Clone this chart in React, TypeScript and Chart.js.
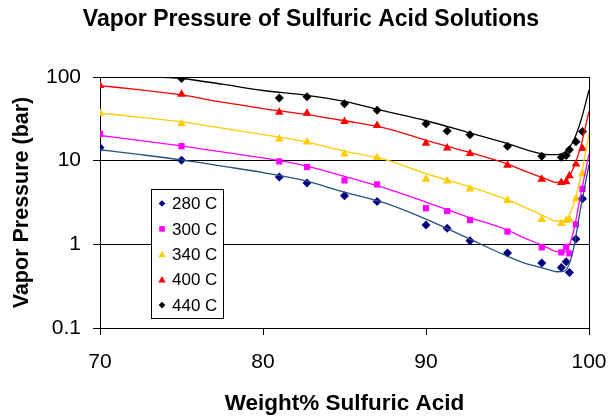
import React, { useEffect, useRef } from "react";
import { Chart, registerables } from "chart.js";

Chart.register(...registerables);

// Measured points (Weight% H2SO4)
const xMeasured = [70, 75, 81, 82.7, 85, 87, 90, 91.3, 92.7, 95, 97.1, 98.3, 98.6, 98.8, 99.2, 99.6];
const p280 = [14.4, 10.1, 6.4, 5.4, 3.8, 3.26, 1.7, 1.56, 1.1, 0.79, 0.6, 0.53, 0.62, 0.46, 1.16, 3.5];
const p300 = [20.9, 14.9, 9.8, 8.4, 5.8, 5.2, 2.7, 2.5, 1.95, 1.42, 0.92, 0.8, 0.93, 0.78, 1.73, 4.6];
const p340 = [37, 27.7, 18.2, 16.7, 12.0, 10.9, 6.0, 5.7, 4.6, 3.35, 1.98, 1.77, 1.93, 1.98, 3.5, 7.0];
const p400 = [79, 62, 38, 37, 29.4, 26.4, 16.2, 14.2, 12.2, 8.8, 6.0, 5.5, 5.6, 6.6, 9.1, 14.0];
const xMeasured440 = [75, 81, 82.7, 85, 87, 90, 91.3, 92.7, 95, 97.1, 98.3, 98.6, 98.8, 99.2, 99.6];
const p440 = [96, 56, 58, 48, 40, 27.6, 22.6, 20.4, 14.9, 11.3, 11.0, 11.5, 13.5, 16.8, 22.3];

// Fitted curves
const xCurve = [70, 72.5, 75, 77.5, 80, 82.5, 85, 87.5, 90, 92.5, 95, 96, 97, 97.5, 98, 98.5, 99, 99.5, 100];
const c280 = [13.5, 11.8, 10.2, 8.6, 7.2, 5.8, 4.2, 3.1, 2.0, 1.2, 0.72, 0.6, 0.53, 0.5, 0.47, 0.48, 0.8, 2.8, 9];
const c300 = [20, 17.4, 15, 12.7, 10.8, 8.8, 6.5, 4.7, 3.2, 2.15, 1.48, 1.2, 1.0, 0.9, 0.82, 0.81, 1.3, 4.0, 12];
const c340 = [37, 33, 29, 24.5, 20.5, 17, 13, 10.3, 7.0, 5.0, 3.4, 2.8, 2.3, 2.05, 1.9, 1.92, 2.8, 6.5, 21];
const c400 = [79, 70, 61, 50, 42, 36, 30, 24.5, 17.5, 12.8, 9.1, 7.6, 6.4, 5.9, 5.5, 5.6, 7.8, 15, 39];
const c440 = [107, 102, 96, 82, 69, 61, 51, 39, 30, 22, 16, 13.8, 12.2, 11.8, 11.8, 12.6, 16.5, 30, 70];

const seriesNames = ["280 C", "300 C", "340 C", "400 C", "440 C"];
const markerColors = ["#000080", "#FF00FF", "#FFCC00", "#FF0000", "#000000"];
const lineColors = ["#25527E", "#FF00FF", "#FFCC00", "#FF0000", "#000000"];
const markerStyles = ["rectRot", "rect", "triangle", "triangle", "rectRot"];
const markerRadius = [4.5, 4.4, 5, 5, 4.5];

const yTicks = [0.1, 1, 10, 100];
const xTicks = [70, 80, 90, 100];

const FONT = "Arial, 'Liberation Sans', sans-serif";

export default function App() {
  const canvasRef = useRef<HTMLCanvasElement | null>(null);

  useEffect(() => {
    const canvas = canvasRef.current;
    if (!canvas) return;

    const measuredX = [xMeasured, xMeasured, xMeasured, xMeasured, xMeasured440];
    const measuredY = [p280, p300, p340, p400, p440];
    const curves = [c280, c300, c340, c400, c440];

    const lineSets = curves.map((c, i) => ({
      label: seriesNames[i] + " fit",
      data: xCurve.map((x, k) => ({ x, y: c[k] })),
      showLine: true,
      borderColor: lineColors[i],
      borderWidth: 1.3,
      pointRadius: 0,
      cubicInterpolationMode: "monotone" as const,
      fill: false,
      clip: 0,
    }));
    const pointSets = measuredY.map((ys, i) => ({
      label: seriesNames[i],
      data: measuredX[i].map((x, k) => ({ x, y: ys[k] })),
      showLine: false,
      pointStyle: markerStyles[i],
      pointRadius: markerRadius[i],
      backgroundColor: markerColors[i],
      borderColor: markerColors[i],
      borderWidth: 0,
    }));

    const framePlugin = {
      id: "frame",
      beforeDatasetsDraw(chart: any) {
        const { ctx, chartArea } = chart;
        ctx.save();
        ctx.strokeStyle = "#000";
        ctx.lineWidth = 1;
        ctx.strokeRect(
          Math.round(chartArea.left) + 0.5,
          Math.round(chartArea.top) + 0.5,
          Math.round(chartArea.right - chartArea.left),
          Math.round(chartArea.bottom - chartArea.top)
        );
        ctx.restore();
      },
      afterDraw(chart: any) {
        const { ctx } = chart;
        ctx.save();
        // Title
        ctx.fillStyle = "#000";
        ctx.font = `bold 23px ${FONT}`;
        ctx.textAlign = "center";
        ctx.textBaseline = "middle";
        ctx.fillText("Vapor Pressure of Sulfuric Acid Solutions", 311, 20);

        // Legend
        const lx = 151, ly = 189, lw = 72, lh = 129;
        ctx.fillStyle = "#fff";
        ctx.fillRect(lx, ly, lw, lh);
        ctx.strokeStyle = "#000";
        ctx.lineWidth = 1;
        ctx.strokeRect(lx + 0.5, ly + 0.5, lw, lh);
        ctx.font = `17px ${FONT}`;
        ctx.textAlign = "left";
        ctx.textBaseline = "middle";
        for (let i = 0; i < seriesNames.length; i++) {
          const cy = 203.5 + i * 25.4;
          drawMarker(ctx, markerStyles[i], 162, cy, 3.3, markerColors[i]);
          ctx.fillStyle = "#000";
          ctx.fillText(seriesNames[i], 172, cy + 1);
        }
        ctx.restore();
      },
    };

    const chart = new Chart(canvas, {
      type: "scatter",
      data: { datasets: [...lineSets, ...pointSets] as any },
      options: {
        animation: false,
        responsive: false,
        maintainAspectRatio: false,
        layout: { padding: { top: 77, right: 19, left: 0, bottom: 0 } },
        plugins: {
          legend: { display: false },
          title: { display: false },
          tooltip: { enabled: false },
        },
        scales: {
          x: {
            type: "linear",
            min: 70,
            max: 100,
            afterBuildTicks: (scale: any) => {
              scale.ticks = xTicks.map((v) => ({ value: v }));
            },
            afterFit: (scale: any) => {
              scale.height = 89;
              scale.paddingRight = 0;
              scale.paddingLeft = 0;
            },
            ticks: {
              color: "#000",
              font: { family: FONT, size: 21 },
              padding: 15,
              maxRotation: 0,
              autoSkip: false,
            },
            grid: {
              display: true,
              drawOnChartArea: false,
              drawTicks: true,
              tickLength: 7,
              color: "#000",
            },
            border: { display: true, color: "#000", width: 1 },
            title: {
              display: true,
              text: "Weight% Sulfuric Acid",
              color: "#000",
              font: { family: FONT, size: 22.5, weight: "bold" },
              padding: { top: 0, bottom: 0 },
            },
          },
          y: {
            type: "logarithmic",
            min: 0.1,
            max: 100,
            afterBuildTicks: (scale: any) => {
              scale.ticks = yTicks.map((v) => ({ value: v }));
            },
            afterFit: (scale: any) => {
              scale.width = 100;
            },
            ticks: {
              color: "#000",
              font: { family: FONT, size: 21 },
              padding: 12,
              autoSkip: false,
              callback: (v: any) => String(v),
            },
            grid: {
              display: true,
              drawOnChartArea: true,
              drawTicks: true,
              tickLength: 7,
              color: "#000",
              lineWidth: 1,
            },
            border: { display: true, color: "#000", width: 1 },
            title: {
              display: true,
              text: "Vapor Pressure (bar)",
              color: "#000",
              font: { family: FONT, size: 21.5, weight: "bold" },
              padding: { top: 9, bottom: 0 },
            },
          },
        },
      },
      plugins: [framePlugin],
    });

    return () => chart.destroy();
  }, []);

  return (
    <div style={{ position: "fixed", left: 0, top: 0, width: 608, height: 417, background: "#fff" }}>
      <canvas ref={canvasRef} width={608} height={417} style={{ width: 608, height: 417, display: "block" }} />
    </div>
  );
}

function drawMarker(ctx: CanvasRenderingContext2D, style: string, x: number, y: number, r: number, color: string) {
  ctx.save();
  ctx.fillStyle = color;
  ctx.beginPath();
  if (style === "rectRot") {
    ctx.moveTo(x, y - r);
    ctx.lineTo(x + r, y);
    ctx.lineTo(x, y + r);
    ctx.lineTo(x - r, y);
    ctx.closePath();
  } else if (style === "rect") {
    const s = r * 0.85;
    ctx.rect(x - s, y - s, 2 * s, 2 * s);
  } else {
    const h = r * 1.1;
    ctx.moveTo(x, y - h);
    ctx.lineTo(x + h, y + h * 0.8);
    ctx.lineTo(x - h, y + h * 0.8);
    ctx.closePath();
  }
  ctx.fill();
  ctx.restore();
}
